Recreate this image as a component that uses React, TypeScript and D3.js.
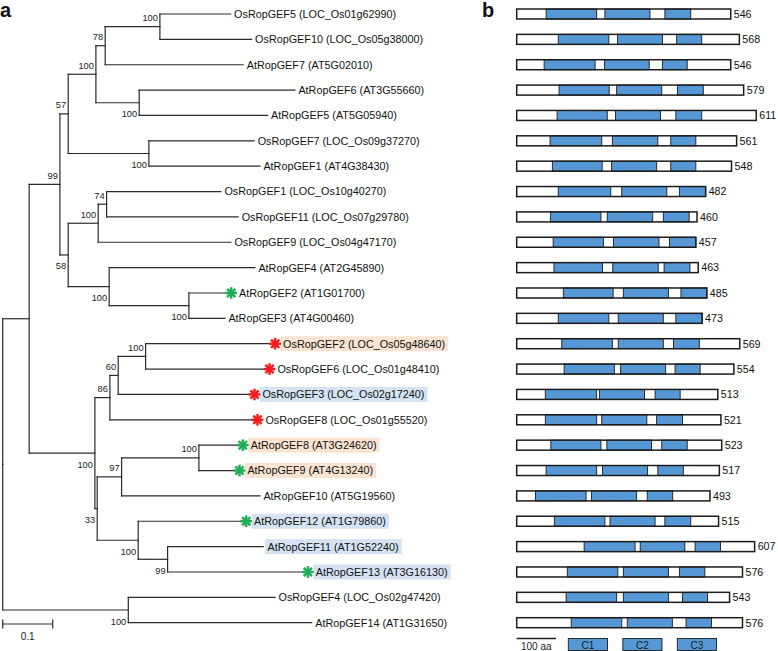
import React, { useEffect, useRef } from 'react';
import * as d3 from 'd3';

const W = 778;
const H = 651;

// Phylogeny (branch lengths in substitutions/site, internal labels = bootstrap)
const treeNewick =
  '((((((((OsRopGEF5:0.1414,OsRopGEF10:0.1834)100:0.1094,AtRopGEF7:0.276)78:0.0186,(AtRopGEF6:0.3114,AtRopGEF5:0.2568)100:0.0866)100:0.0554,(OsRopGEF7:0.2106,AtRopGEF1:0.222)100:0.1614)57:0.0166,' +
  '(((OsRopGEF1:0.2286,OsRopGEF11:0.2632)74:0.0168,OsRopGEF9:0.2654)100:0.06,(AtRopGEF4:0.2914,(AtRopGEF2:0.0754,AtRopGEF3:0.072)100:0.1594)100:0.082)58:0.0166)99:0.0614,' +
  '((((OsRopGEF2:0.25,OsRopGEF6:0.2386)100:0.0548,OsRopGEF3:0.2634)60:0.0166,OsRopGEF8:0.286)86:0.03,(((AtRopGEF8:0.0786,AtRopGEF9:0.072)100:0.1546,AtRopGEF10:0.2766)97:0.0488,(AtRopGEF12:0.2068,(AtRopGEF11:0.1912,AtRopGEF13:0.2712)99:0.0588)100:0.082)33:0.0046)100:0.1314):0.053,' +
  '(OsRopGEF4:0.2934,AtRopGEF14:0.3668)100:0.2512);';

// bootstrap label placed below the incoming branch (postorder of labelled nodes)
const bootstrapBelow = [false, false, true, false, true, false, false, false, true, true, true, false,
  false, false, false, false, false, true, true, true, true, true];

const leafNames = ['OsRopGEF5', 'OsRopGEF10', 'AtRopGEF7', 'AtRopGEF6', 'AtRopGEF5', 'OsRopGEF7', 'AtRopGEF1',
  'OsRopGEF1', 'OsRopGEF11', 'OsRopGEF9', 'AtRopGEF4', 'AtRopGEF2', 'AtRopGEF3', 'OsRopGEF2', 'OsRopGEF6',
  'OsRopGEF3', 'OsRopGEF8', 'AtRopGEF8', 'AtRopGEF9', 'AtRopGEF10', 'AtRopGEF12', 'AtRopGEF11', 'AtRopGEF13',
  'OsRopGEF4', 'AtRopGEF14'];
const locusIds = ['LOC_Os01g62990', 'LOC_Os05g38000', 'AT5G02010', 'AT3G55660', 'AT5G05940', 'LOC_Os09g37270',
  'AT4G38430', 'LOC_Os10g40270', 'LOC_Os07g29780', 'LOC_Os04g47170', 'AT2G45890', 'AT1G01700', 'AT4G00460',
  'LOC_Os05g48640', 'LOC_Os01g48410', 'LOC_Os02g17240', 'LOC_Os01g55520', 'AT3G24620', 'AT4G13240', 'AT5G19560',
  'AT1G79860', 'AT1G52240', 'AT3G16130', 'LOC_Os02g47420', 'AT1G31650'];

const redStarLeaves = ['OsRopGEF2', 'OsRopGEF6', 'OsRopGEF3', 'OsRopGEF8'];
const greenStarLeaves = ['AtRopGEF2', 'AtRopGEF8', 'AtRopGEF9', 'AtRopGEF12', 'AtRopGEF13'];
const peachLeaves = ['OsRopGEF2', 'AtRopGEF8', 'AtRopGEF9'];
const blueLeaves = ['OsRopGEF3', 'AtRopGEF12', 'AtRopGEF11', 'AtRopGEF13'];

// protein lengths (aa) and domain boundaries, same order as leafNames
const proteinLengths = [546, 568, 546, 579, 611, 561, 548, 482, 460, 457, 463, 485, 473, 569, 554, 513, 521, 523,
  517, 493, 515, 607, 576, 543, 576];
const c1Start = [75, 106, 70, 108, 103, 85, 91, 106, 86, 93, 95, 119, 106, 115, 121, 73, 73, 87, 75, 48, 96, 172, 129, 126, 139];
const c1End = [204, 235, 200, 236, 231, 217, 218, 240, 215, 221, 219, 246, 235, 244, 249, 204, 204, 215, 204, 177, 225, 302, 258, 255, 268];
const c2Start = [225, 257, 224, 255, 252, 244, 242, 268, 231, 247, 245, 272, 259, 259, 265, 211, 217, 230, 219, 191, 238, 315, 272, 272, 282];
const c2End = [340, 372, 338, 370, 367, 360, 357, 383, 347, 363, 361, 387, 374, 374, 380, 326, 332, 344, 334, 306, 353, 429, 387, 387, 397];
const c3Start = [378, 408, 372, 410, 406, 393, 393, 415, 374, 390, 376, 419, 406, 400, 404, 353, 357, 370, 360, 333, 378, 455, 415, 423, 432];
const c3End = [444, 472, 435, 476, 472, 457, 457, 482, 440, 457, 442, 485, 473, 466, 468, 417, 423, 435, 425, 398, 444, 520, 480, 487, 497];

const domainNames = ['C1', 'C2', 'C3'];
const treeScaleValue = 0.1;
const barScaleValue = 100;

function parseNewick(src: string) {
  const s = src.replace(/\s+/g, '');
  let i = 0;
  function node(): any {
    const n: any = { children: [] };
    if (s[i] === '(') {
      i++;
      n.children.push(node());
      while (s[i] === ',') { i++; n.children.push(node()); }
      i++;
    }
    let name = '';
    while (i < s.length && !':,();'.includes(s[i])) name += s[i++];
    n.name = name;
    n.length = 0;
    if (s[i] === ':') {
      i++;
      let num = '';
      while (i < s.length && !',();'.includes(s[i])) num += s[i++];
      n.length = parseFloat(num);
    }
    if (!n.children.length) delete n.children;
    return n;
  }
  return node();
}

const FONT = "'Liberation Sans', Arial, Helvetica, sans-serif";
const INK = '#2a2a2a';
const BLUE = '#5598d5';

export default function App() {
  const ref = useRef<SVGSVGElement>(null);

  useEffect(() => {
    const svg = d3.select(ref.current);
    svg.selectAll('*').remove();

    const root: any = d3.hierarchy(parseNewick(treeNewick));
    root.each((n: any) => { n.dist = n.parent ? n.parent.dist + n.data.length : 0; });

    const x = d3.scaleLinear().domain([0, treeScaleValue]).range([2.7, 52.7]);
    const y = d3.scaleLinear().domain([0, leafNames.length - 1]).range([14, 622.7]);

    root.eachAfter((n: any) => {
      if (n.children) n.yy = (n.children[0].yy + n.children[n.children.length - 1].yy) / 2;
      else n.yy = y(leafNames.indexOf(n.data.name));
    });

    const gTree = svg.append('g');
    const lines = gTree.append('g').attr('stroke', INK).attr('stroke-width', 1.2).attr('stroke-linecap', 'square');
    root.descendants().forEach((n: any) => {
      if (n.parent) {
        lines.append('line').attr('x1', x(n.parent.dist)).attr('x2', x(n.dist)).attr('y1', n.yy).attr('y2', n.yy);
      }
      if (n.children) {
        lines.append('line').attr('x1', x(n.dist)).attr('x2', x(n.dist))
          .attr('y1', n.children[0].yy).attr('y2', n.children[n.children.length - 1].yy);
      }
    });

    // bootstrap values
    let bi = 0;
    root.eachAfter((n: any) => {
      if (n.children && n.data.name) {
        const below = bootstrapBelow[bi++];
        gTree.append('text').attr('x', x(n.dist) - 2).attr('y', n.yy + (below ? 14.5 : -5.5))
          .attr('text-anchor', 'end').attr('font-family', FONT).attr('font-size', 9.3).attr('fill', '#222')
          .text(n.data.name);
      }
    });

    // leaf labels
    root.leaves().forEach((n: any) => {
      const name = n.data.name;
      const idx = leafNames.indexOf(name);
      const tip = x(n.dist);
      const star = redStarLeaves.includes(name) ? '#f21c1c' : greenStarLeaves.includes(name) ? '#1fae5a' : null;
      const hl = peachLeaves.includes(name) ? '#fbe3d3' : blueLeaves.includes(name) ? '#d4e2f1' : null;
      const tx = star ? tip + 12.5 : tip + (hl ? 4.4 : 3.5);
      const rect = hl ? gTree.append('rect').attr('fill', hl) : null;
      const t = gTree.append('text').attr('x', tx).attr('y', n.yy).attr('dy', '0.36em')
        .attr('font-family', FONT).attr('font-size', 10.8).attr('fill', '#111')
        .text(`${name} (${locusIds[idx]})`);
      if (rect) {
        const len = (t.node() as SVGTextElement).getComputedTextLength();
        rect.attr('x', tx - 2.5).attr('y', n.yy - 7.5).attr('width', len + 5.5).attr('height', 15);
      }
      if (star) {
        const cx = tip + 4.6, cy = n.yy, r = 5.8;
        const sg = gTree.append('g').attr('stroke', star).attr('stroke-width', 2.5).attr('stroke-linecap', 'butt');
        [0, 45, 90, 135].forEach(a => {
          const rad = (a * Math.PI) / 180;
          sg.append('line').attr('x1', cx - r * Math.cos(rad)).attr('y1', cy - r * Math.sin(rad))
            .attr('x2', cx + r * Math.cos(rad)).attr('y2', cy + r * Math.sin(rad));
        });
      }
    });

    // tree scale bar
    const sbY = 624;
    const sb = gTree.append('g').attr('stroke', INK).attr('stroke-width', 1.2);
    sb.append('line').attr('x1', x(0)).attr('x2', x(treeScaleValue)).attr('y1', sbY).attr('y2', sbY);
    sb.append('line').attr('x1', x(0)).attr('x2', x(0)).attr('y1', sbY - 4.5).attr('y2', sbY + 4.5);
    sb.append('line').attr('x1', x(treeScaleValue)).attr('x2', x(treeScaleValue)).attr('y1', sbY - 4.5).attr('y2', sbY + 4.5);
    gTree.append('text').attr('x', x(treeScaleValue / 2)).attr('y', 640).attr('text-anchor', 'middle')
      .attr('font-family', FONT).attr('font-size', 10).attr('fill', '#222').text(String(treeScaleValue));

    // panel b: domain structures
    const xb = d3.scaleLinear().domain([0, barScaleValue]).range([516.7, 555.9]);
    const gB = svg.append('g');
    const barH = 10;
    leafNames.forEach((name, i) => {
      const cy = y(i);
      const top = cy - barH / 2;
      gB.append('rect').attr('x', xb(0)).attr('y', top).attr('width', xb(proteinLengths[i]) - xb(0)).attr('height', barH)
        .attr('fill', '#fff');
      const doms = [[c1Start[i], c1End[i]], [c2Start[i], c2End[i]], [c3Start[i], c3End[i]]];
      doms.forEach(([s, e]) => {
        gB.append('rect').attr('x', xb(s)).attr('y', top).attr('width', xb(e) - xb(s)).attr('height', barH)
          .attr('fill', BLUE).attr('stroke', '#1c1c1c').attr('stroke-width', 0.9);
      });
      gB.append('rect').attr('x', xb(0)).attr('y', top).attr('width', xb(proteinLengths[i]) - xb(0)).attr('height', barH)
        .attr('fill', 'none').attr('stroke', '#1c1c1c').attr('stroke-width', 1.5);
      gB.append('text').attr('x', xb(proteinLengths[i]) + 3).attr('y', cy).attr('dy', '0.36em')
        .attr('font-family', FONT).attr('font-size', 10.7).attr('fill', '#111').text(String(proteinLengths[i]));
    });

    // bar scale
    gB.append('line').attr('x1', xb(0)).attr('x2', xb(barScaleValue)).attr('y1', 638.5).attr('y2', 638.5)
      .attr('stroke', '#1c1c1c').attr('stroke-width', 1.5);
    gB.append('text').attr('x', (xb(0) + xb(barScaleValue)) / 2).attr('y', 649.5).attr('text-anchor', 'middle')
      .attr('font-family', FONT).attr('font-size', 10).attr('fill', '#222').text(`${barScaleValue} aa`);

    // domain legend
    const legW = xb(barScaleValue) - xb(0);
    domainNames.forEach((d, k) => {
      const lx = 568.3 + k * 54.5;
      gB.append('rect').attr('x', lx).attr('y', 638.5).attr('width', legW).attr('height', 12)
        .attr('fill', BLUE).attr('stroke', '#1c1c1c').attr('stroke-width', 0.9);
      gB.append('text').attr('x', lx + legW / 2).attr('y', 648.5).attr('text-anchor', 'middle')
        .attr('font-family', FONT).attr('font-size', 10).attr('fill', '#1a1a1a').text(d);
    });

    // panel letters
    svg.append('text').attr('x', 0).attr('y', 17).attr('font-family', FONT).attr('font-size', 20)
      .attr('font-weight', 'bold').attr('fill', '#111').text('a');
    svg.append('text').attr('x', 482).attr('y', 17).attr('font-family', FONT).attr('font-size', 20)
      .attr('font-weight', 'bold').attr('fill', '#111').text('b');
  }, []);

  return (
    <svg
      ref={ref}
      width={W}
      height={H}
      viewBox={`0 0 ${W} ${H}`}
      style={{ position: 'absolute', left: 0, top: 0, display: 'block', background: '#fff' }}
    />
  );
}
